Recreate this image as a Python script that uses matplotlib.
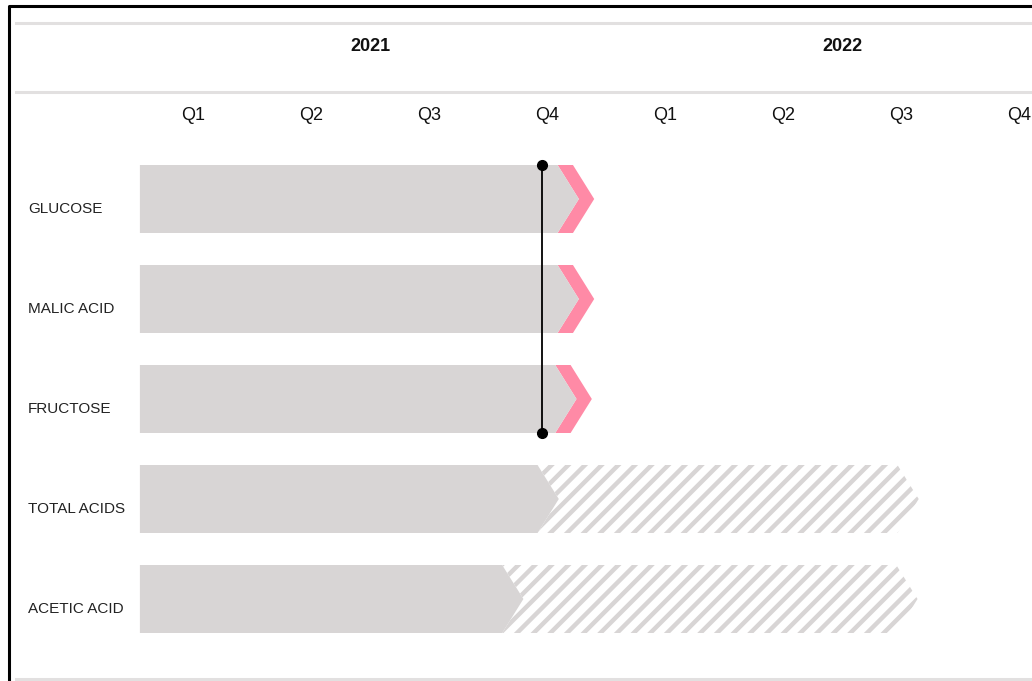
import numpy as np
import matplotlib
matplotlib.use('Agg')
import matplotlib.pyplot as plt
from matplotlib.patches import Polygon
from matplotlib.lines import Line2D

plt.rcParams['font.family'] = ['Liberation Sans Narrow', 'DejaVu Sans Condensed', 'Liberation Sans']
plt.rcParams['hatch.linewidth'] = 3.2

# data (x in quarters from start of 2021)
rows = ['GLUCOSE', 'MALIC ACID', 'FRUCTOSE', 'TOTAL ACIDS', 'ACETIC ACID']
start = [0.05, 0.05, 0.05, 0.05, 0.05]
done = [3.59, 3.59, 3.57, 3.42, 3.12]
planned = [None, None, None, 6.47, 6.46]
late = [True, True, True, False, False]
quarters = ['Q1', 'Q2', 'Q3', 'Q4', 'Q1', 'Q2', 'Q3', 'Q4']
years = ['2021', '2022']
today = 3.46

GRAY = '#d8d5d5'
PINK = '#ff8aa6'
LINE = '#e2e0e0'

W, H = 1032, 681
fig = plt.figure(figsize=(W / 100, H / 100), dpi=100)
ax = fig.add_axes([0, 0, 1, 1])
ax.set_xlim(-134 / 118, (W - 134) / 118)
ax.set_ylim((H - 199) / 100, -199 / 100)
ax.axis('off')

bh = 0.68   # bar height
tip = 0.18  # chevron depth
band = 0.13 # pink band width


def chevron(x0, x1, y, notch):
    top, bot = y - bh / 2, y + bh / 2
    pts = [(x0, top), (x1, top), (x1 + tip, y), (x1, bot), (x0, bot)]
    if notch:
        pts.append((x0 + tip, y))
    return pts


for i, name in enumerate(rows):
    if planned[i] is not None:
        ax.add_patch(Polygon(chevron(done[i], planned[i], i, True), closed=True,
                             facecolor='white', edgecolor=GRAY, lw=0, hatch='//'))
    if late[i]:
        ax.add_patch(Polygon(chevron(done[i], done[i] + band, i, True), closed=True,
                             facecolor=PINK, edgecolor='none'))
    ax.add_patch(Polygon(chevron(start[i], done[i], i, False), closed=True,
                         facecolor=GRAY, edgecolor='none'))
    ax.text(28 / W, i + 0.1, name, transform=ax.get_yaxis_transform(),
            fontsize=11, ha='left', va='center', color='#222222')

# today marker
ax.plot([today, today], [-bh / 2, 2 + bh / 2], color='black', lw=1.3)
ax.plot([today, today], [-bh / 2, 2 + bh / 2], 'o', color='black', ms=7)

# header
for j, q in enumerate(quarters):
    ax.text(j + 0.5, -0.84, q, ha='center', va='center', fontsize=13, color='#111111')
for k, yr in enumerate(years):
    ax.text(4 * k + 2, -1.53, yr, ha='center', va='center', fontsize=13,
            fontweight='bold', color='#111111')

for py in [23, 92, 679]:
    fig.add_artist(Line2D([16 / W, 1], [1 - py / H, 1 - py / H],
                          transform=fig.transFigure, color=LINE, lw=2.2))

# frame (cropped on right and bottom)
fig.add_artist(Line2D([9 / W, 9 / W, 1], [0, 1 - 6 / H, 1 - 6 / H],
                      transform=fig.transFigure, color='black', lw=2.2))

fig.savefig('out.png', dpi=100)
